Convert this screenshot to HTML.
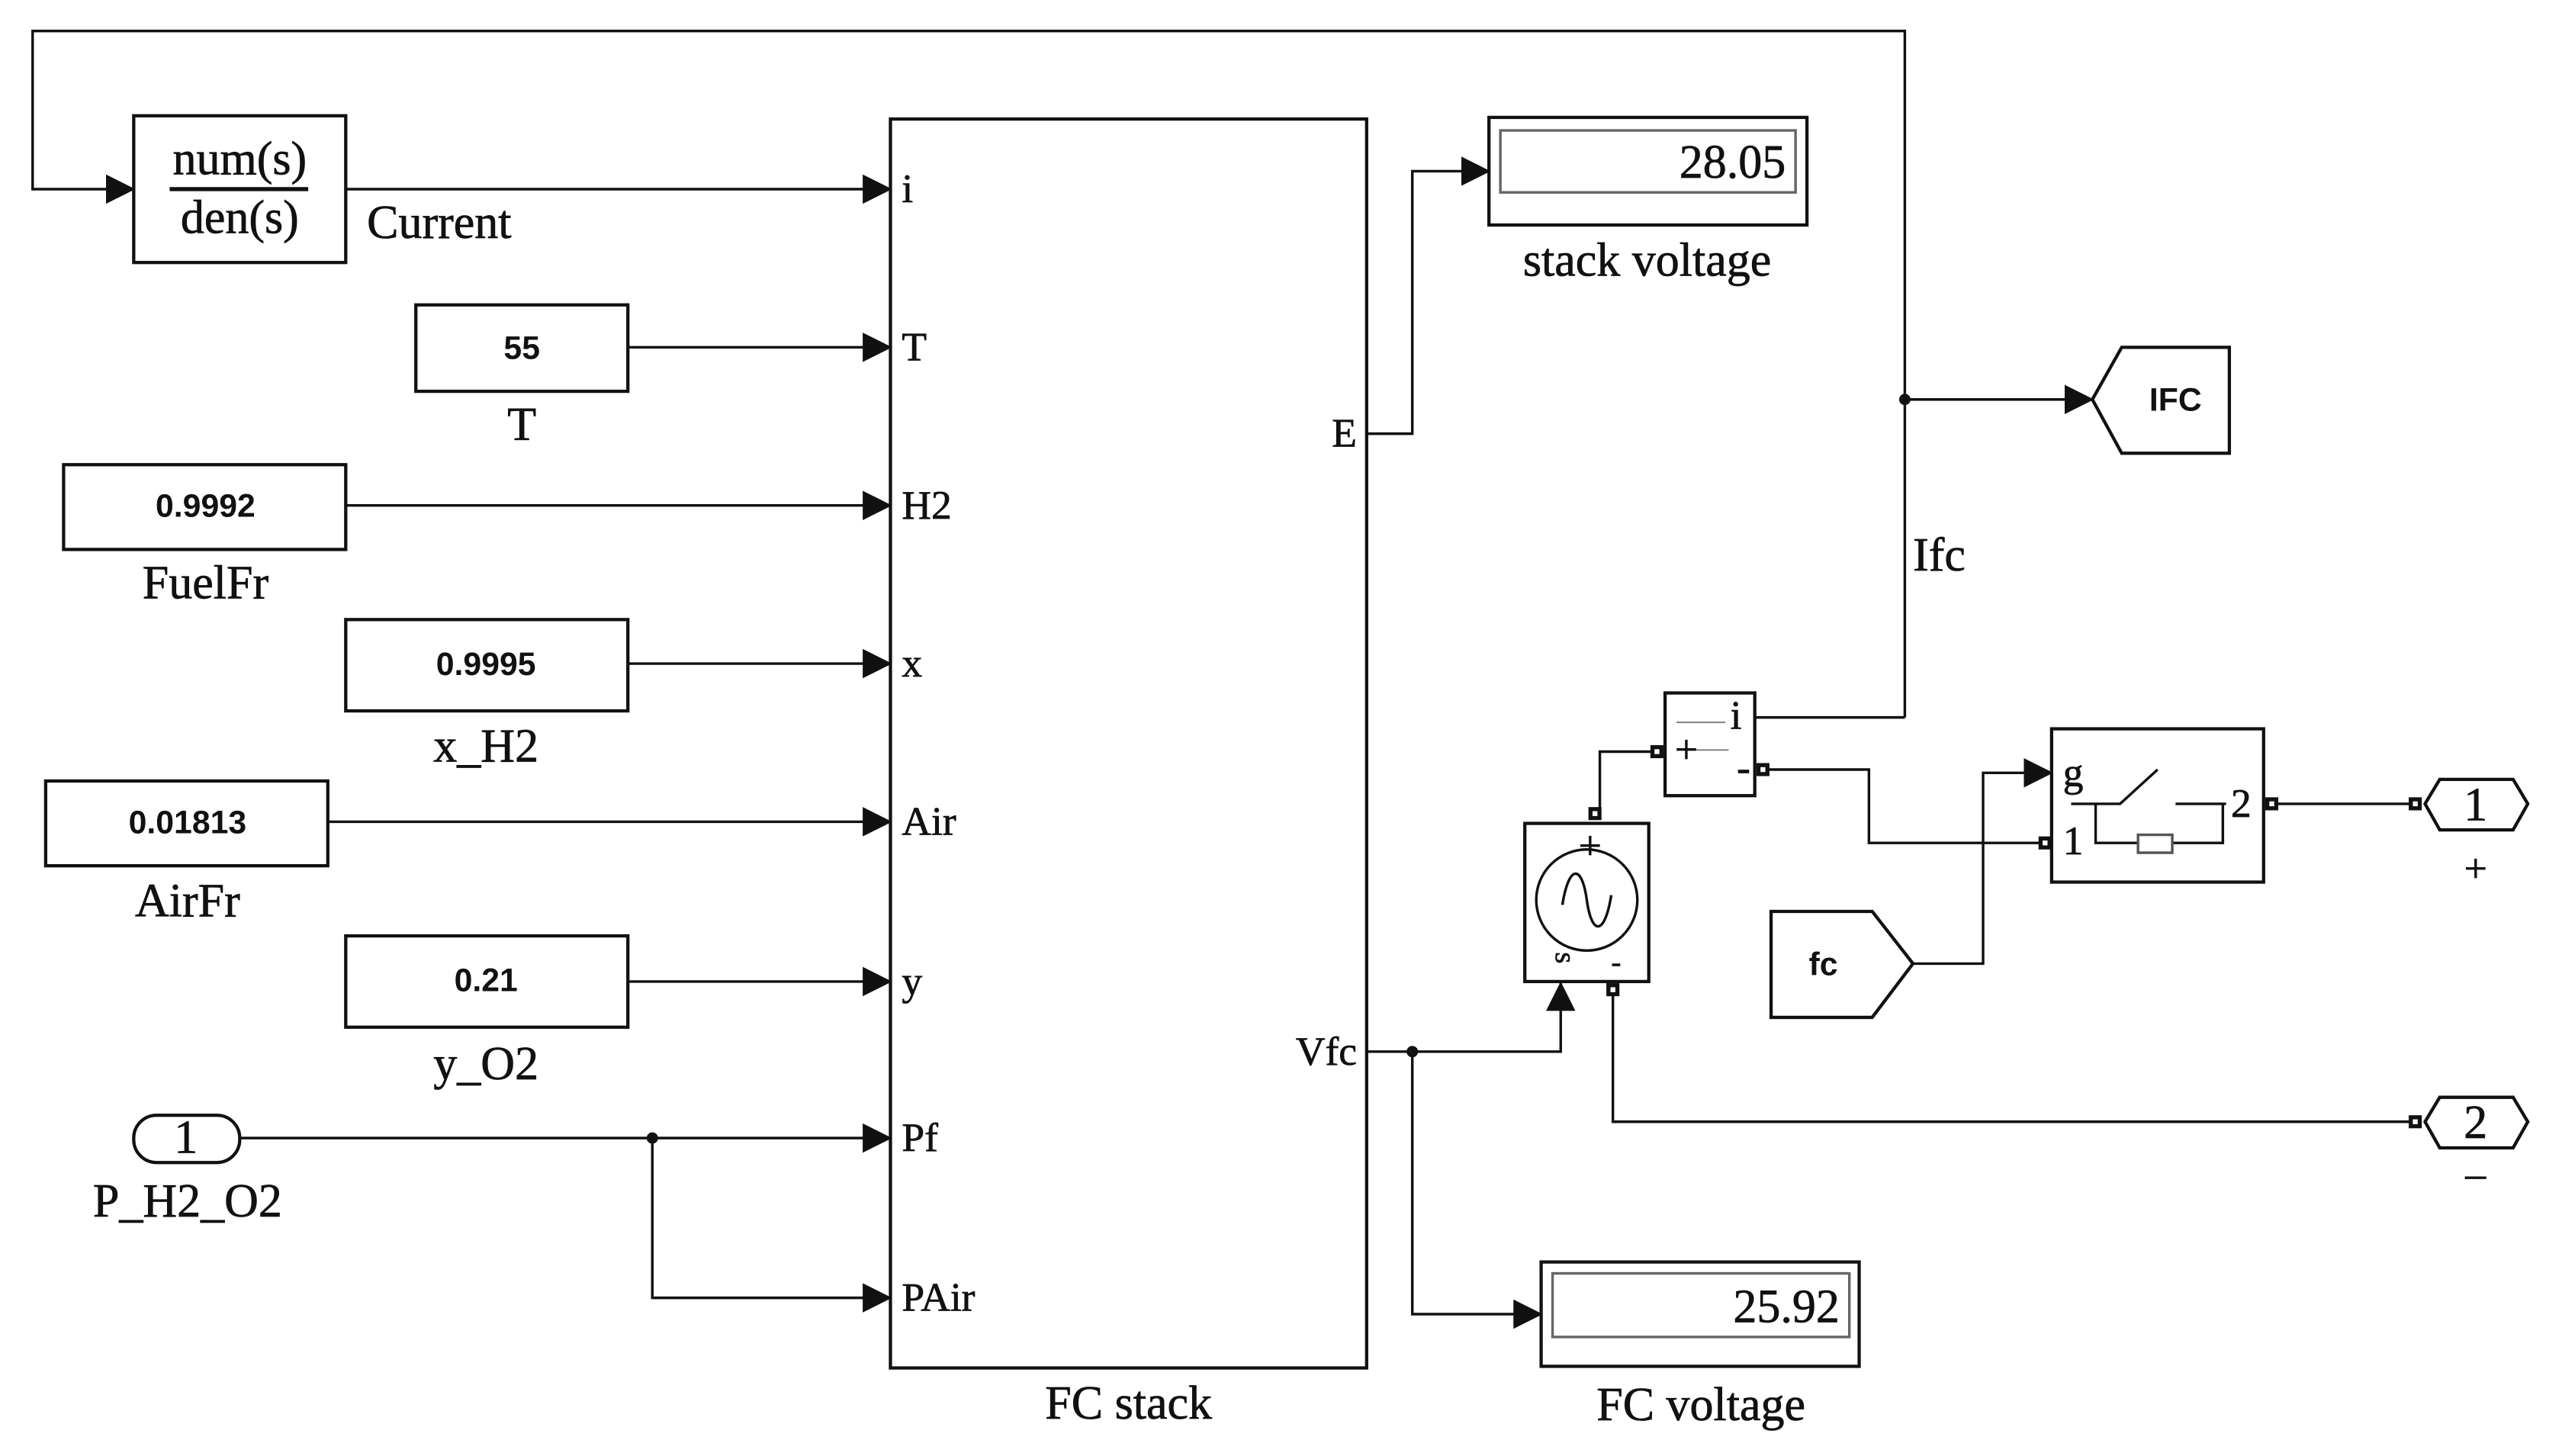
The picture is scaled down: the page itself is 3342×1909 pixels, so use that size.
<!DOCTYPE html>
<html><head><meta charset="utf-8"><style>
html,body{margin:0;padding:0;background:#fff}
svg{display:block}
text{font-family:"Liberation Serif",serif;fill:#111;stroke:#111;stroke-width:0.35}
.s{font-family:"Liberation Sans",sans-serif;font-weight:bold;stroke-width:0}
</style></head><body>
<svg width="3342" height="1909" viewBox="0 0 1563 893" preserveAspectRatio="none" xmlns="http://www.w3.org/2000/svg">
<defs>
<marker id="a2" markerWidth="18" markerHeight="18" refX="17" refY="9" orient="auto" markerUnits="userSpaceOnUse"><path d="M0,0 L18,9 L0,18 z" fill="#111"/></marker>
</defs>
<g fill="none" stroke="#111" stroke-width="1.6">
<polyline points="1168,440 1168,19 20,19 20,116 82,116" marker-end="url(#a2)"/>
<rect x="82" y="71" width="130" height="90" stroke-width="2"/>
<line x1="104" y1="116" x2="189" y2="116" stroke-width="2.5"/>
<line x1="212" y1="116" x2="546" y2="116" marker-end="url(#a2)"/>
<rect x="546" y="73" width="292" height="766" stroke-width="2"/>
<rect x="255" y="187" width="130" height="53" stroke-width="2"/>
<line x1="385" y1="213" x2="546" y2="213" marker-end="url(#a2)"/>
<rect x="39" y="285" width="173" height="52" stroke-width="2"/>
<line x1="212" y1="310" x2="546" y2="310" marker-end="url(#a2)"/>
<rect x="212" y="380" width="173" height="56" stroke-width="2"/>
<line x1="385" y1="407" x2="546" y2="407" marker-end="url(#a2)"/>
<rect x="28" y="479" width="173" height="52" stroke-width="2"/>
<line x1="201" y1="504" x2="546" y2="504" marker-end="url(#a2)"/>
<rect x="212" y="574" width="173" height="56" stroke-width="2"/>
<line x1="385" y1="602" x2="546" y2="602" marker-end="url(#a2)"/>
<rect x="82" y="684" width="65" height="29" rx="14" stroke-width="2"/>
<line x1="147" y1="698" x2="546" y2="698" marker-end="url(#a2)"/>
<polyline points="400,698 400,796 546,796" marker-end="url(#a2)"/>
<polyline points="838,266 866,266 866,105 913,105" marker-end="url(#a2)"/>
<rect x="913" y="72" width="195" height="66" stroke-width="2"/>
<rect x="920" y="80" width="181" height="38" stroke="#666"/>
<line x1="1168" y1="245" x2="1283" y2="245" marker-end="url(#a2)"/>
<polygon points="1283,245 1301,213 1367,213 1367,278 1301,278" stroke-width="2"/>
<line x1="1076" y1="440" x2="1168" y2="440"/>
<rect x="1021" y="425" width="55" height="63" stroke-width="2"/>
<polyline points="1016,461 981,461 981,499"/>
<rect x="935" y="505" width="76" height="97" stroke-width="2"/>
<circle cx="973" cy="552" r="31"/>
<path d="M958,555 C962,530 970,530 973,552 C976,574 984,574 988,549"/>
<polyline points="838,645 957,645 957,603" marker-end="url(#a2)"/>
<polyline points="866,645 866,806 945,806" marker-end="url(#a2)"/>
<rect x="945" y="774" width="195" height="64" stroke-width="2"/>
<rect x="952" y="781" width="182" height="39" stroke="#666"/>
<polyline points="989,607 989,688 1480,688"/>
<polyline points="1081,472 1146,472 1146,517 1254,517"/>
<polygon points="1086,559 1148,559 1173,591 1148,624 1086,624" stroke-width="2"/>
<polyline points="1173,591 1216,591 1216,474 1258,474" marker-end="url(#a2)"/>
<rect x="1258" y="447" width="130" height="94" stroke-width="2"/>
<polyline points="1270,493 1300,493 1323,472"/>
<line x1="1334" y1="493" x2="1365" y2="493"/>
<polyline points="1285,493 1285,517 1311,517"/>
<polyline points="1332,517 1363,517 1363,493"/>
<rect x="1311" y="512" width="21" height="11" stroke="#555"/>
<line x1="1393" y1="493" x2="1480" y2="493"/>
<polygon points="1487,493 1496,478 1541,478 1550,493 1541,509 1496,509" stroke-width="2"/>
<polygon points="1487,688 1496,673 1541,673 1550,688 1541,704 1496,704" stroke-width="2"/>
<path d="M1028,443 h30 M1040,460 h20" stroke="#888" stroke-width="1"/>
</g>
<g fill="#111">
<circle cx="400" cy="698" r="3.5"/><circle cx="866" cy="645" r="3.5"/><circle cx="1168" cy="245" r="3.5"/>
<rect x="1012" y="457" width="8" height="8"/><rect x="1077" y="468" width="8" height="8"/>
<rect x="974" y="495" width="8" height="8"/><rect x="985" y="603" width="8" height="8"/>
<rect x="1250" y="513" width="8" height="8"/><rect x="1389" y="489" width="8" height="8"/>
<rect x="1477" y="489" width="8" height="8"/><rect x="1477" y="684" width="8" height="8"/>
</g>
<g fill="#fff"><rect x="1014.5" y="459.5" width="3" height="3"/><rect x="1079.5" y="470.5" width="3" height="3"/><rect x="976.5" y="497.5" width="3" height="3"/><rect x="987.5" y="605.5" width="3" height="3"/><rect x="1252.5" y="515.5" width="3" height="3"/><rect x="1391.5" y="491.5" width="3" height="3"/><rect x="1479.5" y="491.5" width="3" height="3"/><rect x="1479.5" y="686.5" width="3" height="3"/></g>
<g font-size="29">
<text x="147" y="107" text-anchor="middle">num(s)</text>
<text x="147" y="143" text-anchor="middle">den(s)</text>
<text x="225" y="146">Current</text>
<text x="320" y="270" text-anchor="middle">T</text>
<text x="126" y="367" text-anchor="middle">FuelFr</text>
<text x="298" y="467" text-anchor="middle">x_H2</text>
<text x="115" y="562" text-anchor="middle">AirFr</text>
<text x="298" y="662" text-anchor="middle">y_O2</text>
<text x="115" y="746" text-anchor="middle">P_H2_O2</text>
<text x="114" y="707" text-anchor="middle">1</text>
<text x="692" y="870" text-anchor="middle">FC stack</text>
<text x="1010" y="169" text-anchor="middle">stack voltage</text>
<text x="1043" y="871" text-anchor="middle">FC voltage</text>
<text x="1173" y="350">Ifc</text>
<text x="1095" y="109" text-anchor="end" fill="#333">28.05</text>
<text x="1128" y="811" text-anchor="end" fill="#333">25.92</text>
<text x="1518" y="503" text-anchor="middle">1</text>
<text x="1518" y="698" text-anchor="middle">2</text>
</g>
<g font-size="25">
<text x="553" y="124">i</text><text x="553" y="221">T</text><text x="553" y="318">H2</text>
<text x="553" y="415">x</text><text x="553" y="512">Air</text><text x="553" y="610">y</text>
<text x="553" y="706">Pf</text><text x="553" y="804">PAir</text>
<text x="832" y="274" text-anchor="end">E</text>
<text x="832" y="653" text-anchor="end">Vfc</text>
<text x="1061" y="447">i</text>
<text x="1027" y="468">+</text>
<text x="1065" y="479">-</text>
<text x="968" y="527">+</text>
<text x="1265" y="482">g</text>
<text x="1265" y="524">1</text>
<text x="1368" y="501">2</text>
<text x="1518" y="541" text-anchor="middle">+</text>
<text x="1518" y="728" text-anchor="middle">–</text>
<text x="988" y="596" font-size="18">-</text>
<text x="950" y="592" font-size="18" transform="rotate(90 956 590)">s</text>
</g>
<g font-size="20">
<text class="s" x="320" y="220" text-anchor="middle">55</text>
<text class="s" x="126" y="317" text-anchor="middle">0.9992</text>
<text class="s" x="298" y="414" text-anchor="middle">0.9995</text>
<text class="s" x="115" y="511" text-anchor="middle">0.01813</text>
<text class="s" x="298" y="608" text-anchor="middle">0.21</text>
<text class="s" x="1334" y="252" text-anchor="middle">IFC</text>
<text class="s" x="1118" y="598" text-anchor="middle">fc</text>
</g>
</svg>
</body></html>
